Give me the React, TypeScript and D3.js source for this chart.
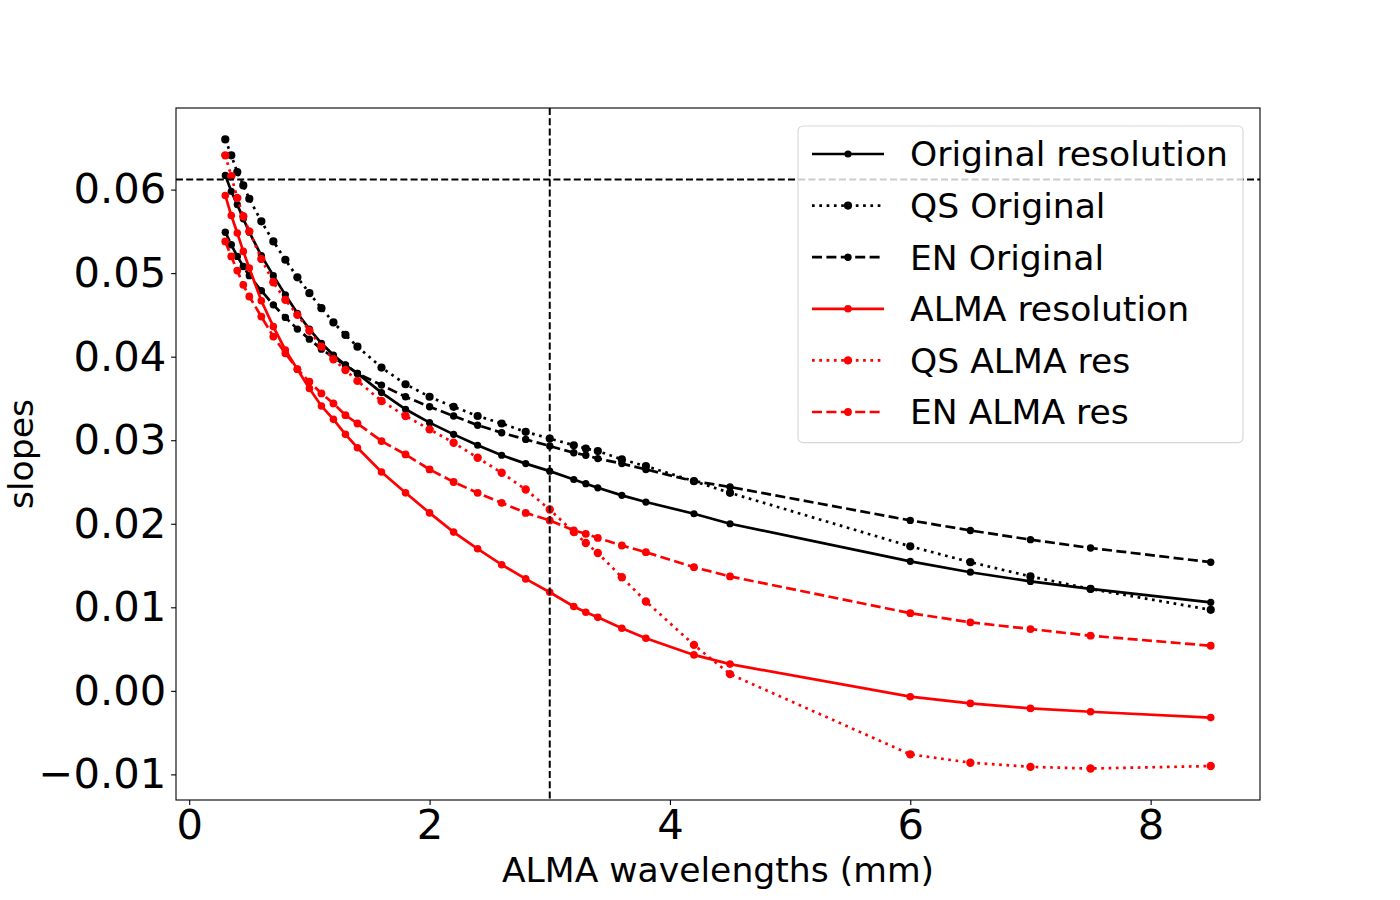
import { axisBottom, axisLeft, format, line as d3Line, scaleLinear, select, min, max } from "d3";
import { useEffect, useRef } from "react";

// wavelengths (mm) shared by every series
const wavelengths = [
  0.3, 0.35, 0.4, 0.45, 0.5, 0.6, 0.7, 0.8, 0.9, 1.0, 1.1, 1.2, 1.3, 1.4, 1.6, 1.8, 2.0, 2.2,
  2.4, 2.6, 2.8, 3.0, 3.2, 3.3, 3.4, 3.6, 3.8, 4.2, 4.5, 6.0, 6.5, 7.0, 7.5, 8.5,
];

const originalRes = [
  0.0617, 0.0598, 0.0582, 0.0565, 0.0549, 0.0521, 0.0497, 0.0474, 0.0452, 0.0433, 0.0416, 0.0402,
  0.039, 0.038, 0.0357, 0.0337, 0.0321, 0.0307, 0.0294, 0.0282, 0.0272, 0.0263, 0.0253, 0.0248,
  0.0243, 0.0234, 0.0226, 0.0212, 0.02, 0.0155, 0.0142, 0.0131, 0.0122, 0.0106,
];
const qsOriginal = [
  0.066, 0.0641, 0.0621, 0.0605, 0.0589, 0.0562, 0.0538, 0.0516, 0.0495, 0.0476, 0.0458, 0.0441,
  0.0426, 0.0412, 0.0387, 0.0367, 0.0352, 0.034, 0.0329, 0.032, 0.031, 0.0302, 0.0294, 0.029,
  0.0287, 0.0277, 0.0269, 0.0251, 0.0237, 0.0173, 0.0154, 0.0137, 0.0122, 0.0097,
];
const enOriginal = [
  0.0549, 0.0534, 0.052, 0.0508, 0.0497, 0.0479, 0.0462, 0.0447, 0.0433, 0.0421, 0.0409, 0.0399,
  0.039, 0.038, 0.0366, 0.0352, 0.034, 0.0329, 0.0318, 0.0309, 0.0301, 0.0293, 0.0285, 0.0282,
  0.0278, 0.0272, 0.0265, 0.0251, 0.0244, 0.0204, 0.0192, 0.0181, 0.0171, 0.0154,
];
const almaRes = [
  0.0593, 0.0569, 0.0548, 0.0526, 0.0506, 0.0467, 0.0436, 0.0408, 0.0385, 0.0362, 0.0341, 0.0325,
  0.0307, 0.0291, 0.0262, 0.0237, 0.0213, 0.019, 0.017, 0.0151, 0.0134, 0.0118, 0.0101, 0.0094,
  0.0088, 0.0075, 0.0063, 0.0043, 0.0032, -0.0007, -0.0015, -0.0021, -0.0025, -0.0032,
];
const qsAlma = [
  0.0641, 0.0616, 0.059, 0.0568, 0.055, 0.0517, 0.0489, 0.0468, 0.045, 0.0431, 0.0412, 0.0397,
  0.0384, 0.0371, 0.0347, 0.0329, 0.0313, 0.0297, 0.0279, 0.0261, 0.0241, 0.0217, 0.019, 0.0177,
  0.0165, 0.0136, 0.0107, 0.0055, 0.002, -0.0076, -0.0086, -0.0091, -0.0093, -0.009,
];
const enAlma = [
  0.0538, 0.052, 0.0503, 0.0486, 0.0472, 0.0448, 0.0424, 0.0404, 0.0385, 0.037, 0.0356, 0.0344,
  0.033, 0.032, 0.0299, 0.0283, 0.0265, 0.025, 0.0237, 0.0225, 0.0213, 0.0204, 0.0192, 0.0188,
  0.0183, 0.0174, 0.0166, 0.0148, 0.0137, 0.0093, 0.0082, 0.0074, 0.0066, 0.0054,
];

const refWavelength = 3.0;
const refSlope = 0.0612;

const xTicks = [0, 2, 4, 6, 8];
const yTicks = [-0.01, 0, 0.01, 0.02, 0.03, 0.04, 0.05, 0.06];

const LINE_W = 2.7;
const DASHED = "10,4.4";
const DOTTED = "2.7,4.6";

const seriesList = [
  { label: "Original resolution", values: originalRes, color: "#000000", dash: null, r: 3.6 },
  { label: "QS Original", values: qsOriginal, color: "#000000", dash: DOTTED, r: 4.1 },
  { label: "EN Original", values: enOriginal, color: "#000000", dash: DASHED, r: 3.7 },
  { label: "ALMA resolution", values: almaRes, color: "#ff0000", dash: null, r: 3.8 },
  { label: "QS ALMA res", values: qsAlma, color: "#ff0000", dash: DOTTED, r: 4.2 },
  { label: "EN ALMA res", values: enAlma, color: "#ff0000", dash: DASHED, r: 3.9 },
];

const FONT = "'DejaVu Sans', sans-serif";

export default function App() {
  const svgRef = useRef<SVGSVGElement | null>(null);

  useEffect(() => {
    document.body.style.margin = "0";
    if (!svgRef.current) return;
    const svg = select(svgRef.current);
    svg.selectAll("*").remove();

    const width = 1400;
    const height = 900;
    const margin = { top: 108, right: 140, bottom: 100, left: 176 };
    const innerWidth = width - margin.left - margin.right;
    const innerHeight = height - margin.top - margin.bottom;

    svg.append("rect").attr("width", width).attr("height", height).attr("fill", "white");

    // matplotlib-like 5% padding around the data
    const xMin = min(wavelengths) as number;
    const xMax = max(wavelengths) as number;
    const allValues = seriesList.flatMap((s) => s.values);
    const yMin = min(allValues) as number;
    const yMax = max(allValues) as number;
    const xPad = (xMax - xMin) * 0.05;
    const yPad = (yMax - yMin) * 0.05;

    const x = scaleLinear().domain([xMin - xPad, xMax + xPad]).range([0, innerWidth]);
    const y = scaleLinear().domain([yMin - yPad, yMax + yPad]).range([innerHeight, 0]);

    const chart = svg.append("g").attr("transform", `translate(${margin.left},${margin.top})`);

    const lineGen = d3Line<number>()
      .x((_, i) => x(wavelengths[i]))
      .y((d) => y(d));

    seriesList.forEach((s) => {
      chart
        .append("path")
        .datum(s.values)
        .attr("fill", "none")
        .attr("stroke", s.color)
        .attr("stroke-width", LINE_W)
        .attr("stroke-dasharray", s.dash)
        .attr("d", lineGen);
      chart
        .append("g")
        .selectAll("circle")
        .data(s.values)
        .join("circle")
        .attr("cx", (_, i) => x(wavelengths[i]))
        .attr("cy", (d) => y(d))
        .attr("r", s.r)
        .attr("fill", s.color);
    });

    // reference lines
    chart
      .append("line")
      .attr("x1", x(refWavelength))
      .attr("x2", x(refWavelength))
      .attr("y1", 0)
      .attr("y2", innerHeight)
      .attr("stroke", "black")
      .attr("stroke-width", 2)
      .attr("stroke-dasharray", "7,3.2");
    chart
      .append("line")
      .attr("x1", 0)
      .attr("x2", innerWidth)
      .attr("y1", y(refSlope))
      .attr("y2", y(refSlope))
      .attr("stroke", "black")
      .attr("stroke-width", 2)
      .attr("stroke-dasharray", "7,3.2");

    // axes
    const xAxis = axisBottom(x)
      .tickValues(xTicks)
      .tickFormat((d) => format("d")(Number(d)))
      .tickSize(4.9)
      .tickSizeOuter(0)
      .tickPadding(4.9);
    const xg = chart.append("g").attr("transform", `translate(0,${innerHeight})`).call(xAxis);
    xg.select(".domain").remove();
    xg.selectAll("line").attr("stroke-width", 1.1);
    xg.selectAll("text").attr("font-family", FONT).attr("font-size", 41.7).attr("fill", "black");

    const yAxis = axisLeft(y)
      .tickValues(yTicks)
      .tickFormat((d) => format(".2f")(Number(d)))
      .tickSize(4.9)
      .tickSizeOuter(0)
      .tickPadding(4.9);
    const yg = chart.append("g").call(yAxis);
    yg.select(".domain").remove();
    yg.selectAll("line").attr("stroke-width", 1.1);
    yg.selectAll("text").attr("font-family", FONT).attr("font-size", 41.7).attr("fill", "black");

    chart
      .append("rect")
      .attr("width", innerWidth)
      .attr("height", innerHeight)
      .attr("fill", "none")
      .attr("stroke", "black")
      .attr("stroke-width", 1.1);

    // axis labels
    svg
      .append("text")
      .attr("x", margin.left + innerWidth / 2)
      .attr("y", 882)
      .attr("text-anchor", "middle")
      .attr("font-family", FONT)
      .attr("font-size", 34.6)
      .text("ALMA wavelengths (mm)");
    svg
      .append("text")
      .attr("transform", `translate(33,${margin.top + innerHeight / 2}) rotate(-90)`)
      .attr("text-anchor", "middle")
      .attr("font-family", FONT)
      .attr("font-size", 34.6)
      .text("slopes");

    // legend
    const legendRight = margin.left + innerWidth - 17;
    const legendTop = margin.top + 18;
    const legendW = 445;
    const rowH = 51.6;
    const legendH = rowH * seriesList.length + 7;
    const legend = svg.append("g").attr("transform", `translate(${legendRight - legendW},${legendTop})`);
    legend
      .append("rect")
      .attr("width", legendW)
      .attr("height", legendH)
      .attr("rx", 5)
      .attr("fill", "white")
      .attr("fill-opacity", 0.8)
      .attr("stroke", "#cccccc")
      .attr("stroke-opacity", 0.8)
      .attr("stroke-width", 1.1);
    seriesList.forEach((s, i) => {
      const cy = 28 + i * rowH;
      legend
        .append("line")
        .attr("x1", 14)
        .attr("x2", 86)
        .attr("y1", cy)
        .attr("y2", cy)
        .attr("stroke", s.color)
        .attr("stroke-width", LINE_W)
        .attr("stroke-dasharray", s.dash);
      legend.append("circle").attr("cx", 50).attr("cy", cy).attr("r", s.r).attr("fill", s.color);
      legend
        .append("text")
        .attr("x", 112)
        .attr("y", cy + 12.3)
        .attr("font-family", FONT)
        .attr("font-size", 34.6)
        .attr("fill", "black")
        .text(s.label);
    });
  }, []);

  return <svg ref={svgRef} width={1400} height={900} style={{ display: "block" }} />;
}
